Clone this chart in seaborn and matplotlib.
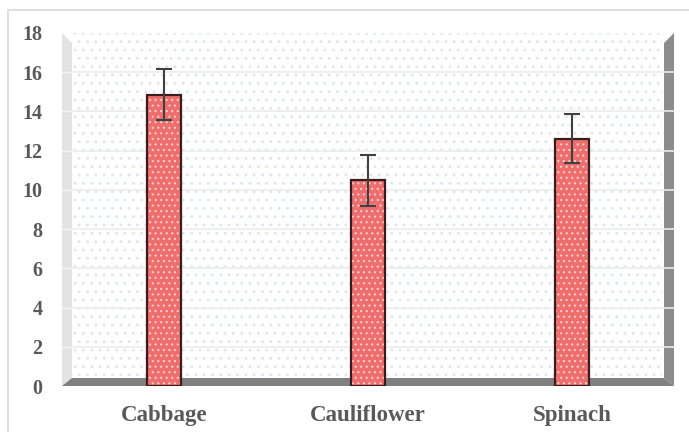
import numpy as np
import pandas as pd
import matplotlib.pyplot as plt
import seaborn as sns
from matplotlib.patches import Polygon, Rectangle

sns.set_style('white')
plt.rcParams['font.family'] = ['Liberation Serif', 'DejaVu Serif']
plt.rcParams['hatch.linewidth'] = 0.8

crops = ['Cabbage', 'Cauliflower', 'Spinach']
means = [14.85, 10.5, 12.6]
errors = [1.3, 1.3, 1.25]
yticks = [0, 2, 4, 6, 8, 10, 12, 14, 16, 18]

df = pd.DataFrame({'crop': crops, 'value': means})

fig = plt.figure(figsize=(6.89, 4.32), dpi=100)
ax = fig.add_axes([62 / 689, 1 - 386 / 432, 612 / 689, 353 / 432])
ax.set_xlim(-0.5, 2.5)
ax.set_ylim(0, 18)

# outer chart frame
fig.patches.append(Rectangle((8 / 689, -0.1), 1.2, 1.1 - 10 / 432, transform=fig.transFigure,
                             fill=False, edgecolor='#d9d9d9', linewidth=1.2, zorder=0))

# back wall with faint dotted texture
ax.patch.set_facecolor('white')
ax.add_patch(Rectangle((10 / 612, 0), 1 - 22 / 612, 1, transform=ax.transAxes,
                       facecolor='white', edgecolor='#dbe6f2', hatch='..', linewidth=0, zorder=0))

# 3D side walls and floor
wx = 10 / 612
wy = 8 / 353
dy = 10 / 353
ax.add_patch(Polygon([(0, 0), (wx, wy), (wx, 1 - dy), (0, 1)], closed=True, transform=ax.transAxes,
                     facecolor='#e3e3e3', edgecolor='none', zorder=0.5, clip_on=False))
ax.add_patch(Polygon([(1 - wx, wy), (1, 0), (1, 1), (1 - wx, 1 - dy)], closed=True, transform=ax.transAxes,
                     facecolor='#8c8c8c', edgecolor='none', zorder=0.5, clip_on=False))
ax.add_patch(Polygon([(0, 0), (1, 0), (1 - wx, wy), (wx, wy)], closed=True, transform=ax.transAxes,
                     facecolor='#808080', edgecolor='none', zorder=0.6, clip_on=False))

# gridlines on the back wall
for t in yticks[1:-1]:
    ax.plot([wx, 1], [t / 18, t / 18], transform=ax.transAxes, color='#ececec', lw=1.2, zorder=0.7)
    ax.plot([0, wx], [t / 18, t / 18], transform=ax.transAxes, color='#f5f5f5', lw=1.0, zorder=0.7)

# bars: fill + pale dots, then dark outline
sns.barplot(data=df, x='crop', y='value', ax=ax, color='#ee6e6e', width=0.17,
            edgecolor='#fbd0d0', linewidth=0, hatch='...', saturation=1, zorder=2)
sns.barplot(data=df, x='crop', y='value', ax=ax, fill=False, width=0.17,
            edgecolor='#3a1c1c', linewidth=1.6, zorder=3)
ax.errorbar(np.arange(len(crops)), means, yerr=errors, fmt='none', ecolor='#404040',
            elinewidth=1.5, capsize=6, capthick=1.5, zorder=4)

ax.set_xlim(-0.5, 2.5)
ax.set_ylim(0, 18)
ax.set_yticks(yticks)
ax.set_yticklabels([str(t) for t in yticks], fontsize=14.5, fontweight='bold', color='#595959')
ax.set_xticks(range(len(crops)))
ax.set_xticklabels(crops, fontsize=16.5, fontweight='bold', color='#595959')
ax.tick_params(axis='y', length=0, pad=14)
ax.tick_params(axis='x', length=0, pad=14)
ax.set_xlabel('')
ax.set_ylabel('')
for s in ax.spines.values():
    s.set_visible(False)

plt.savefig('out.png', dpi=100)
plt.close()
